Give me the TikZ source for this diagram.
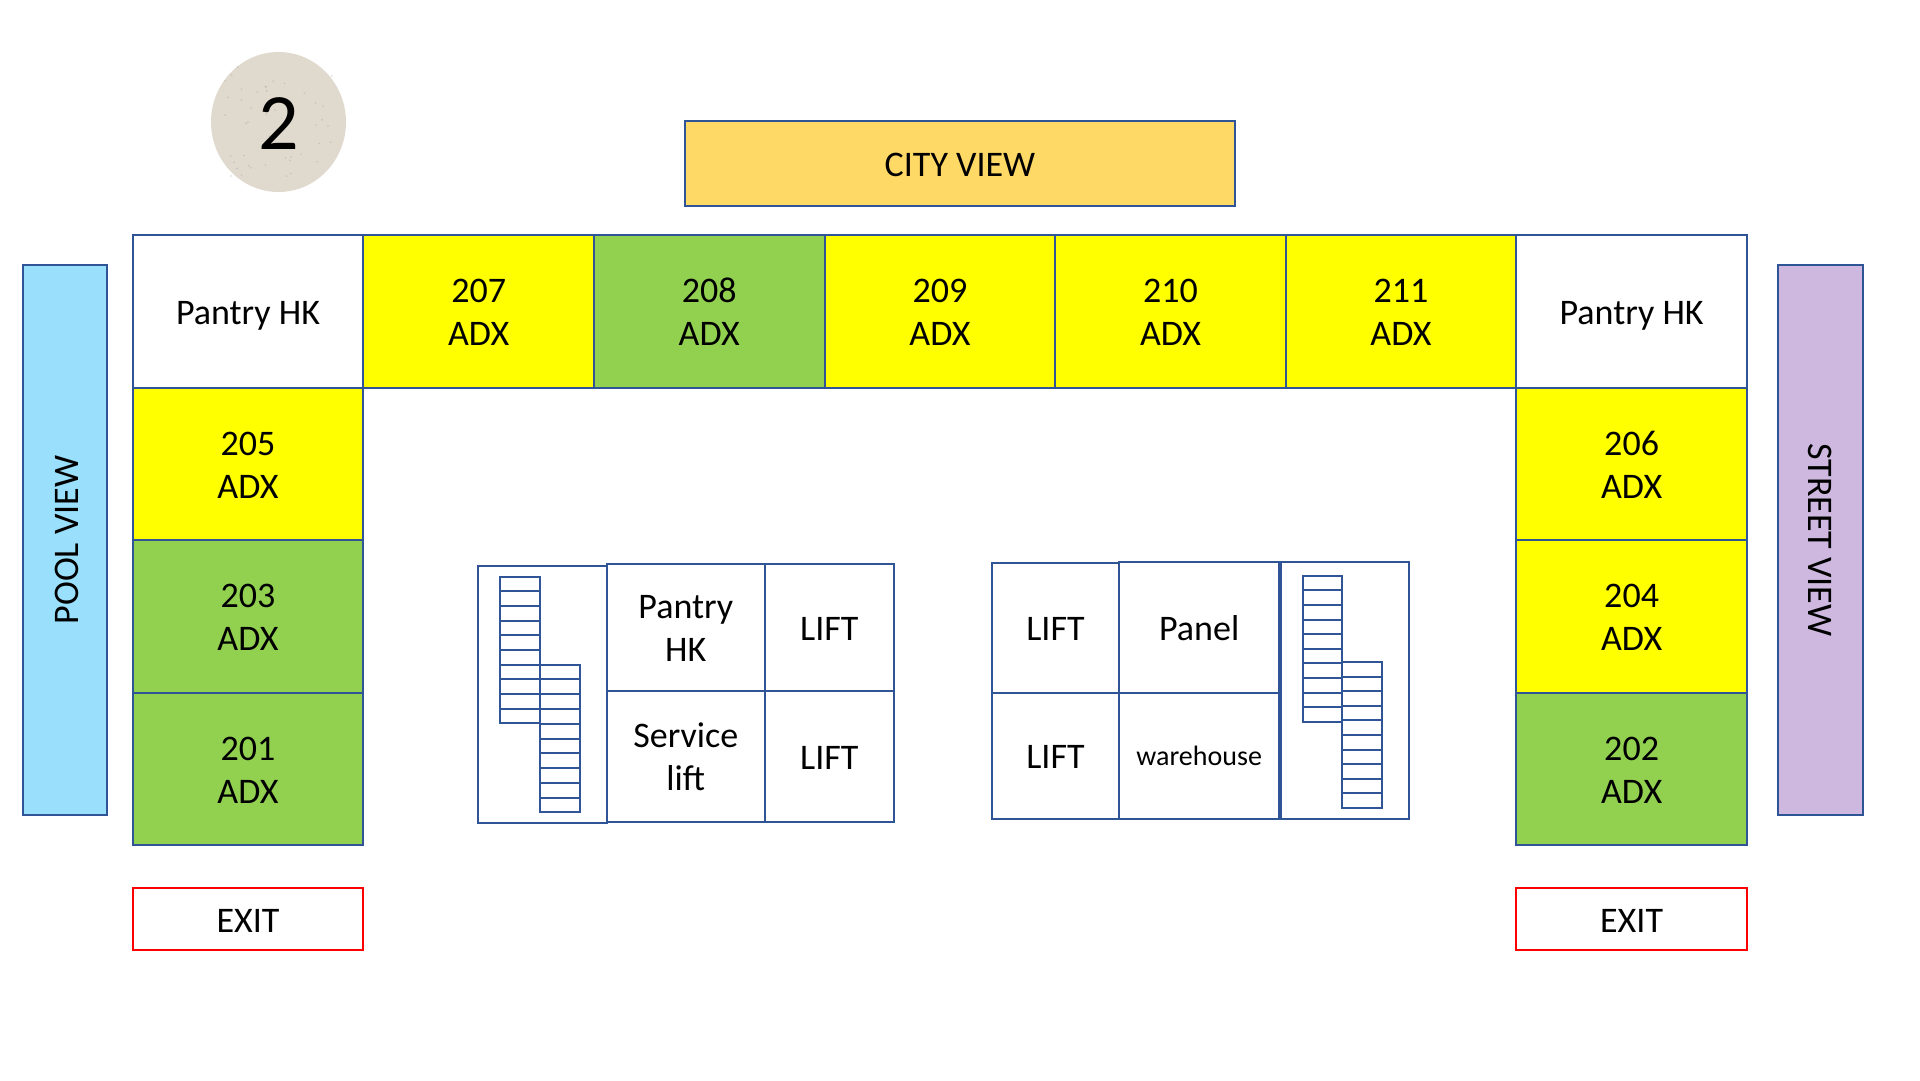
\documentclass[tikz,border=0pt]{standalone}
\usepackage{fontspec}
\setmainfont{Carlito}
\definecolor{frameblue}{HTML}{2F5597}
\definecolor{roomyellow}{HTML}{FFFF00}
\definecolor{roomgreen}{HTML}{92D050}
\definecolor{poolblue}{HTML}{9ADFFB}
\definecolor{streetpurple}{HTML}{CEB8DF}
\definecolor{cityorange}{HTML}{FFD966}
\definecolor{floorstone}{HTML}{E0D9CE}
\tikzset{
    box/.style={draw=frameblue, line width=2pt, inner sep=0pt, outer sep=0pt, align=center,
        font=\fontsize{36}{43}\selectfont},
    oneline/.style={text height=32.4pt, text depth=6.4pt},
    twoline/.style={text height=#1pt, text depth=6.4pt},
    twoline/.default=74.4,
    room/.style={box, minimum width=230.6pt, minimum height=152.6pt},
    exitbox/.style={room, oneline, draw=red, minimum height=62pt},
    stairline/.style={draw=frameblue, line width=2pt}
}
\begin{document}
\begin{tikzpicture}[x=1pt,y=-1pt]
    \useasboundingbox (0,0) rectangle (1920,1080);
    % floor badge
    \fill[floorstone] (278.5,122) ellipse (67.5 and 70);
    \pgfmathsetseed{42}
    \foreach \i in {1,...,45}
        \fill[black!35,opacity=0.45] ({278.5+rnd*110-55},{122+rnd*116-58}) circle (0.9);
    \node[inner sep=0pt,font=\fontsize{80}{80}\selectfont] (floornum) at (278.5,124) {2};
    % views
    \node[box,oneline,fill=cityorange,minimum width=550pt,minimum height=85pt] (cityview) at (960,163.5) {CITY VIEW};
    \node[box,fill=poolblue,minimum width=84pt,minimum height=550pt] (poolbox) at (65,540) {};
    \node[rotate=90,font=\fontsize{36}{43}\selectfont] (poolview) at (67,540) {POOL VIEW};
    \node[box,fill=streetpurple,minimum width=85pt,minimum height=550pt] (streetbox) at (1820,540) {};
    \node[rotate=-90,font=\fontsize{36}{43}\selectfont] (streetview) at (1820,540) {STREET VIEW};
    % top row
    \node[room,oneline] (pantryl) at (248,311.5) {Pantry HK};
    \node[room,twoline,fill=roomyellow] (r207) at (478.7,311.5) {207\\ADX};
    \node[room,twoline,fill=roomgreen] (r208) at (709.3,311.5) {208\\ADX};
    \node[room,twoline,fill=roomyellow] (r209) at (940,311.5) {209\\ADX};
    \node[room,twoline,fill=roomyellow] (r210) at (1170.6,311.5) {210\\ADX};
    \node[room,twoline,fill=roomyellow] (r211) at (1401,311.5) {211\\ADX};
    \node[room,oneline] (pantryr) at (1631.6,311.5) {Pantry HK};
    % left wing
    \node[room,twoline,fill=roomyellow] (r205) at (248,464) {205\\ADX};
    \node[room,twoline,fill=roomgreen] (r203) at (248,616.5) {203\\ADX};
    \node[room,twoline,fill=roomgreen] (r201) at (248,769) {201\\ADX};
    % right wing
    \node[room,twoline,fill=roomyellow] (r206) at (1631.6,464) {206\\ADX};
    \node[room,twoline,fill=roomyellow] (r204) at (1631.6,616.5) {204\\ADX};
    \node[room,twoline,fill=roomgreen] (r202) at (1631.6,769) {202\\ADX};
    % exits
    \node[exitbox] (exitl) at (248,919) {EXIT};
    \node[exitbox] (exitr) at (1631.6,919) {EXIT};
    % left core
    \draw[stairline] (477.7,565.7) rectangle (607,822.7);
    \foreach \i in {0,...,9} {
        \draw[stairline] (500,{576.7+\i*14.66}) rectangle ++(40,14.66);
        \draw[stairline] (540,{664.7+\i*14.76}) rectangle ++(40,14.76);
    }
    \node[box,twoline,minimum width=157.7pt,minimum height=126.7pt] (pantrycore) at (685.8,627.3) {Pantry\\HK};
    \node[box,oneline,minimum width=129.3pt,minimum height=126.7pt] (liftla) at (829.3,627.3) {LIFT};
    \node[box,twoline=74,minimum width=157.7pt,minimum height=131pt] (servicelift) at (685.8,756.2) {Service\\lift};
    \node[box,oneline,minimum width=129.3pt,minimum height=131pt] (liftlb) at (829.3,756.2) {LIFT};
    % right core
    \node[box,oneline,minimum width=127.6pt,minimum height=130pt] (liftra) at (1055.5,627.7) {LIFT};
    \node[box,oneline,minimum width=127.6pt,minimum height=126pt] (liftrb) at (1055.5,755.7) {LIFT};
    \node[box,oneline,minimum width=159.7pt,minimum height=130.7pt] (panel) at (1199.2,627.4) {Panel};
    \node[box,text height=25pt,text depth=6.4pt,minimum width=159.7pt,minimum height=126pt,font=\fontsize{28}{34}\selectfont] (warehouse) at (1199.2,755.7) {warehouse};
    \draw[stairline] (1281,562) rectangle (1409,818.7);
    \foreach \i in {0,...,9} {
        \draw[stairline] (1303,{575.7+\i*14.63}) rectangle ++(39,14.63);
        \draw[stairline] (1342,{662+\i*14.6}) rectangle ++(40,14.6);
    }
\end{tikzpicture}
\end{document}
